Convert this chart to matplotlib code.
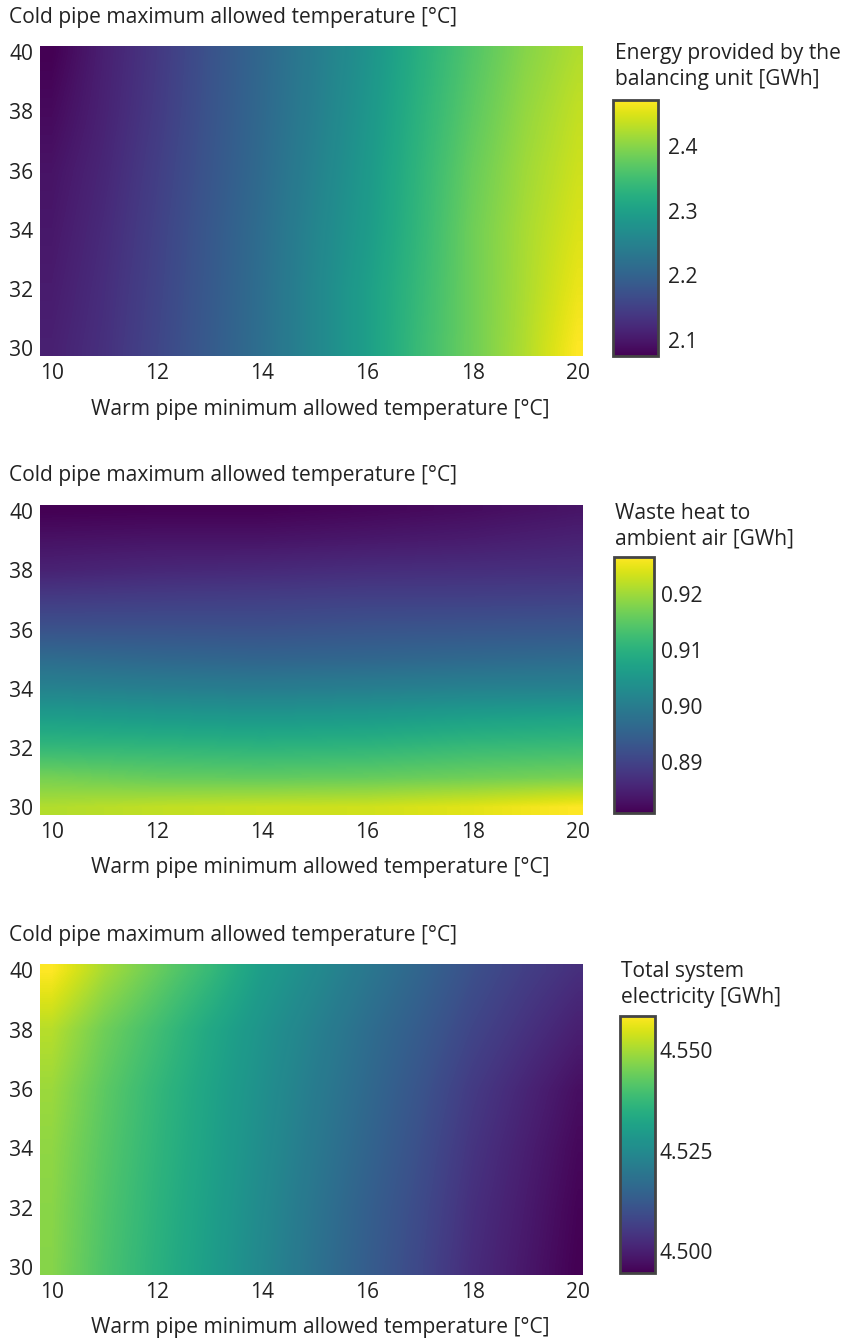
import numpy as np
import matplotlib
matplotlib.use("Agg")
import matplotlib.pyplot as plt

plt.rcParams['font.family'] = ['Open Sans', 'DejaVu Sans']

# Warm pipe minimum allowed temperature [°C] (x) and cold pipe maximum (y)
warm_11 = [10, 11, 12, 13, 14, 15, 16, 17, 18, 19, 20]
warm_6 = [10, 12, 14, 16, 18, 20]
cold_6 = [30, 32, 34, 36, 38, 40]
cold_11 = [30, 31, 32, 33, 34, 35, 36, 37, 38, 39, 40]

# Energy provided by the balancing unit [GWh], rows = cold_6, cols = warm_11
energy_balancing = [
    [2.110, 2.130, 2.158, 2.188, 2.220, 2.258, 2.298, 2.345, 2.385, 2.425, 2.472],
    [2.105, 2.127, 2.155, 2.186, 2.219, 2.258, 2.298, 2.342, 2.385, 2.422, 2.460],
    [2.100, 2.123, 2.152, 2.184, 2.217, 2.255, 2.292, 2.338, 2.385, 2.420, 2.450],
    [2.095, 2.118, 2.148, 2.180, 2.213, 2.250, 2.288, 2.335, 2.380, 2.415, 2.442],
    [2.085, 2.113, 2.143, 2.177, 2.210, 2.245, 2.283, 2.330, 2.372, 2.408, 2.435],
    [2.075, 2.110, 2.140, 2.175, 2.208, 2.242, 2.278, 2.325, 2.365, 2.400, 2.425],
]

# Waste heat to ambient air [GWh], rows = cold_11, cols = warm_6
waste_heat = [
    [0.9212, 0.9222, 0.9228, 0.9232, 0.9245, 0.9265],
    [0.9170, 0.9158, 0.9155, 0.9158, 0.9165, 0.9172],
    [0.9113, 0.9110, 0.9105, 0.9108, 0.9118, 0.9122],
    [0.9065, 0.9058, 0.9053, 0.9058, 0.9068, 0.9075],
    [0.9012, 0.9005, 0.9000, 0.9005, 0.9010, 0.9012],
    [0.8970, 0.8962, 0.8957, 0.8960, 0.8965, 0.8970],
    [0.8925, 0.8925, 0.8923, 0.8928, 0.8930, 0.8932],
    [0.8890, 0.8893, 0.8895, 0.8898, 0.8898, 0.8900],
    [0.8853, 0.8860, 0.8863, 0.8868, 0.8870, 0.8872],
    [0.8832, 0.8835, 0.8835, 0.8840, 0.8845, 0.8853],
    [0.8810, 0.8812, 0.8812, 0.8818, 0.8825, 0.8835],
]

# Total system electricity [GWh], rows = cold_6, cols = warm_11
total_electricity = [
    [4.5469, 4.5405, 4.5353, 4.5302, 4.5244, 4.5186, 4.5134, 4.5083, 4.5025, 4.4986, 4.4945],
    [4.5472, 4.5410, 4.5358, 4.5307, 4.5250, 4.5193, 4.5140, 4.5090, 4.5032, 4.4992, 4.4950],
    [4.5478, 4.5417, 4.5364, 4.5313, 4.5258, 4.5203, 4.5152, 4.5100, 4.5042, 4.5000, 4.4958],
    [4.5490, 4.5425, 4.5370, 4.5318, 4.5265, 4.5212, 4.5163, 4.5112, 4.5055, 4.5012, 4.4970],
    [4.5515, 4.5445, 4.5390, 4.5330, 4.5275, 4.5225, 4.5175, 4.5130, 4.5078, 4.5038, 4.5000],
    [4.5585, 4.5500, 4.5437, 4.5375, 4.5300, 4.5250, 4.5199, 4.5153, 4.5102, 4.5063, 4.5031],
]

x_ticks = [10, 12, 14, 16, 18, 20]
y_ticks = [30, 32, 34, 36, 38, 40]

W, H = 849, 1343
fig = plt.figure(figsize=(W / 100, H / 100), dpi=100)


def box(left, top, right, bottom):
    # pixel box -> figure fraction
    return [left / W, 1 - bottom / H, (right - left) / W, (bottom - top) / H]


FS = 15.1
TXT = '#222222'

panels = [
    dict(z=energy_balancing, x=warm_11, y=cold_6, top=46, bottom=356,
         cb=(613, 100, 658, 356), title=["Energy provided by the", "balancing unit [GWh]"],
         title_x=615, title_y=(54, 80), cticks=[2.1, 2.2, 2.3, 2.4], fmt="{:.1f}", cpad=7),
    dict(z=waste_heat, x=warm_6, y=cold_11, top=505, bottom=815,
         cb=(614, 557, 654, 813), title=["Waste heat to", "ambient air [GWh]"],
         title_x=615, title_y=(513, 539), cticks=[0.89, 0.90, 0.91, 0.92], fmt="{:.2f}", cpad=5),
    dict(z=total_electricity, x=warm_11, y=cold_6, top=964, bottom=1275,
         cb=(620, 1016, 655, 1273), title=["Total system", "electricity [GWh]"],
         title_x=621, title_y=(971, 997), cticks=[4.500, 4.525, 4.550], fmt="{:.3f}", cpad=3),
]

for p in panels:
    z = np.array(p['z'])
    xs, ys = p['x'], p['y']
    dx = xs[1] - xs[0]
    dy = ys[1] - ys[0]
    ax = fig.add_axes(box(40, p['top'], 583, p['bottom']))
    im = ax.imshow(z, origin='lower', cmap='viridis', aspect='auto',
                   interpolation='bilinear',
                   extent=(xs[0] - dx / 2, xs[-1] + dx / 2, ys[0] - dy / 2, ys[-1] + dy / 2),
                   vmin=z.min(), vmax=z.max())
    ax.set_xlim(9.77, 20.1)
    ax.set_ylim(29.73, 40.21)
    ax.set_xticks(x_ticks)
    ax.set_yticks(y_ticks)
    ax.tick_params(length=0, labelsize=FS, labelcolor=TXT, pad=5)
    for s in ax.spines.values():
        s.set_visible(False)

    # axis titles
    fig.text(9 / W, 1 - (p['top'] - 29) / H, "Cold pipe maximum allowed temperature [°C]",
             fontsize=FS, color=TXT, ha='left', va='center')
    fig.text(320 / W, 1 - (p['bottom'] + 53) / H, "Warm pipe minimum allowed temperature [°C]",
             fontsize=FS, color=TXT, ha='center', va='center')

    # colorbar
    cax = fig.add_axes(box(*p['cb']))
    cb = fig.colorbar(im, cax=cax)
    cb.outline.set_edgecolor('#444444')
    cb.outline.set_linewidth(2)
    cb.set_ticks(p['cticks'])
    cb.set_ticklabels([p['fmt'].format(v) for v in p['cticks']])
    cax.tick_params(length=0, labelsize=FS, labelcolor=TXT, pad=p['cpad'])
    for line, ty in zip(p['title'], p['title_y']):
        fig.text(p['title_x'] / W, 1 - ty / H, line, fontsize=FS, color=TXT,
                 ha='left', va='center')

fig.savefig('out.png', dpi=100)
